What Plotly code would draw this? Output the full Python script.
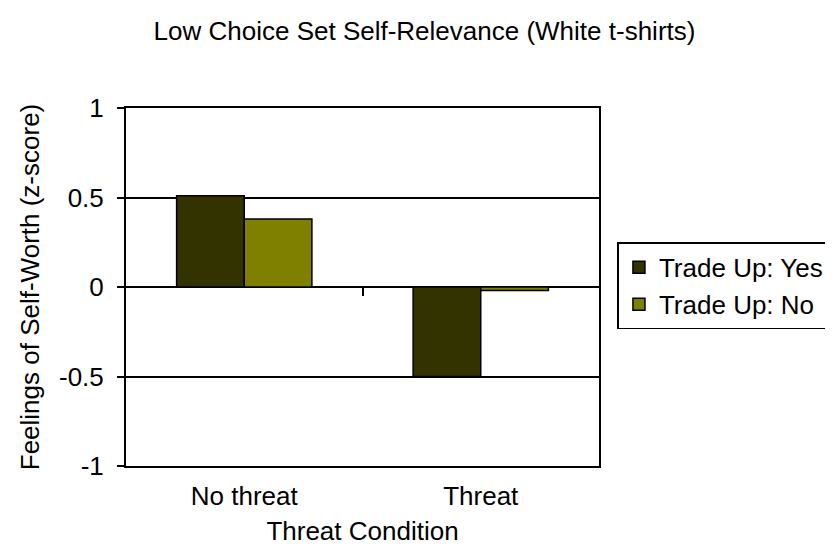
import plotly.graph_objects as go

categories = ["No threat", "Threat"]
trade_up_yes = [0.51, -0.50]
trade_up_no = [0.38, -0.02]
series_names = ["Trade Up: Yes", "Trade Up: No"]
y_ticks = [1, 0.5, 0, -0.5, -1]
y_tick_labels = ["1", "0.5", "0", "-0.5", "-1"]

FONT = "Liberation Sans, Arial, sans-serif"
FS = 26

fig = go.Figure()
fig.add_trace(go.Bar(x=categories, y=trade_up_yes, name=series_names[0],
                     marker=dict(color="#333300", line=dict(color="black", width=1.5))))
fig.add_trace(go.Bar(x=categories, y=trade_up_no, name=series_names[1],
                     marker=dict(color="#808000", line=dict(color="black", width=1.5))))

fig.update_layout(
    width=833, height=557,
    margin=dict(l=118, r=229, t=100, b=99),
    paper_bgcolor="white", plot_bgcolor="white",
    font=dict(family=FONT, size=FS, color="black"),
    barmode="group", bargap=0.428, bargroupgap=0,
    title=dict(text="Low Choice Set Self-Relevance (White t-shirts)",
               x=0.5, xref="container", xanchor="center",
               y=1 - 23 / 557, yref="container", yanchor="middle",
               font=dict(family=FONT, size=FS, color="black")),
    legend=dict(x=1.039, xanchor="left", y=0.503, yanchor="middle",
                bordercolor="black", borderwidth=1.5, bgcolor="white",
                font=dict(family=FONT, size=FS, color="black"),
                tracegroupgap=0),
    xaxis=dict(type="category", showline=True, linecolor="black", linewidth=2,
               mirror=True, ticks="", showgrid=False, ticklabelstandoff=6,
               title=dict(text="Threat Condition", standoff=12,
                          font=dict(family=FONT, size=FS, color="black"))),
    xaxis2=dict(overlaying="x", anchor="free", position=0.5, range=[-0.5, 1.5],
                tickvals=[0.5], ticks="outside", ticklen=8, tickwidth=1.5,
                tickcolor="black", showticklabels=False, showline=False,
                showgrid=False, zeroline=False),
    yaxis=dict(range=[-1, 1], tickvals=y_ticks, ticktext=y_tick_labels,
               showline=True, linecolor="black", linewidth=2, mirror=True,
               ticks="outside", ticklen=7, tickwidth=1.5, tickcolor="black",
               ticklabelstandoff=8,
               showgrid=True, gridcolor="black", gridwidth=1.5,
               zeroline=True, zerolinecolor="black", zerolinewidth=1.5,
               title=dict(text="Feelings of Self-Worth (z-score)", standoff=12,
                          font=dict(family=FONT, size=FS, color="black"))),
)
# invisible helper so xaxis2 (the mid-category tick on the zero line) is drawn
fig.add_trace(go.Scatter(x=[0.5], y=[0], xaxis="x2", mode="markers",
                         marker=dict(opacity=0), showlegend=False, hoverinfo="skip"))

fig.write_html("out.html")
